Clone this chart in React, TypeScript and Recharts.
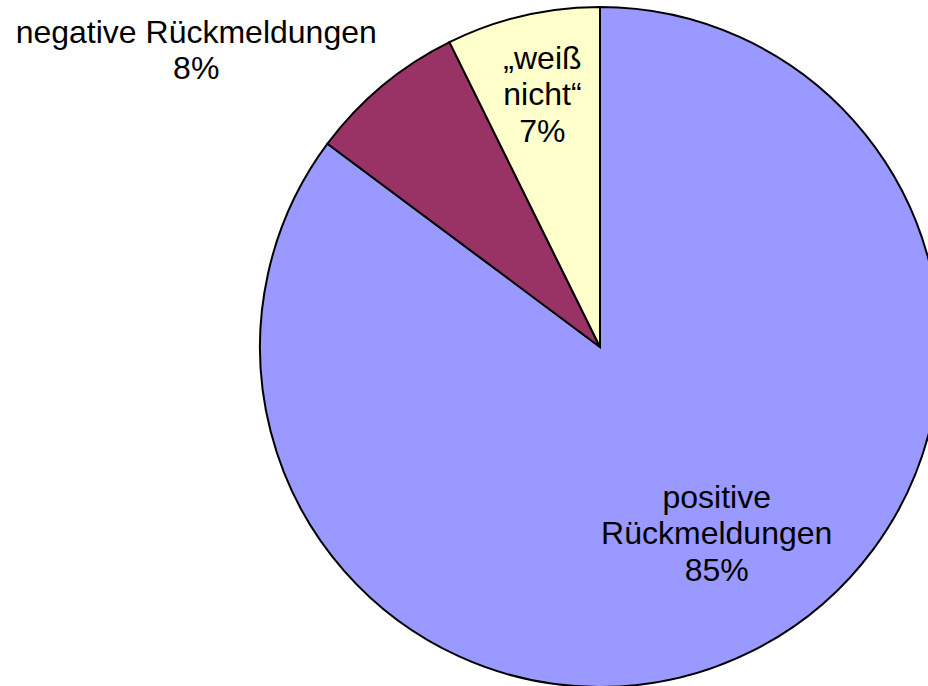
import { PieChart, Pie, Cell } from 'recharts';

const categories = ['positive Rückmeldungen', 'negative Rückmeldungen', '„weiß nicht“'];
const values = [85.2, 7.5, 7.3];
const labelLines = [
    ['positive', 'Rückmeldungen', '85%'],
    ['negative Rückmeldungen', '8%'],
    ['„weiß', 'nicht“', '7%'],
];

const COLORS = ['#9999FF', '#993366', '#FFFFCC'];
// label placement: radius factor and angle shift from the slice middle
const LABEL_POS = [
    { r: 0.647, da: 5.4 },
    { r: 1.474, da: 13.9 },
    { r: 0.762, da: -0.3 },
];
const RAD = Math.PI / 180;
const LINE_H = 36.5;

const data = categories.map((name, i) => ({ name, value: values[i] }));

function renderLabel(props: any) {
    const { cx, cy, midAngle, outerRadius, index } = props;
    const pos = LABEL_POS[index];
    const a = (midAngle + pos.da) * RAD;
    const x = cx + outerRadius * pos.r * Math.cos(a);
    const y = cy - outerRadius * pos.r * Math.sin(a);
    const lines = labelLines[index];
    const y0 = y - ((lines.length - 1) / 2) * LINE_H;
    return (
        <text
            key={`lbl-${index}`}
            x={x}
            y={y0}
            textAnchor="middle"
            dominantBaseline="central"
            fill="#000"
            fontSize={32}
            fontFamily="'Liberation Sans', Arial, sans-serif"
        >
            {lines.map((l, j) => (
                <tspan key={j} x={x} y={y0 + j * LINE_H}>{l}</tspan>
            ))}
        </text>
    );
}

export default function App() {
    return (
        <div style={{ position: 'absolute', left: 0, top: 0, width: 928, height: 686, background: '#fff', overflow: 'hidden' }}>
            <PieChart width={928} height={686} margin={{ top: 0, right: 0, bottom: 0, left: 0 }}>
                <Pie
                    data={data}
                    dataKey="value"
                    cx={600}
                    cy={347}
                    innerRadius={0}
                    outerRadius={340}
                    startAngle={90}
                    endAngle={-270}
                    stroke="#000"
                    strokeWidth={2}
                    label={renderLabel}
                    labelLine={false}
                    isAnimationActive={false}
                >
                    {data.map((d, i) => (
                        <Cell key={`cell-${i}`} fill={COLORS[i]} />
                    ))}
                </Pie>
            </PieChart>
        </div>
    );
}
